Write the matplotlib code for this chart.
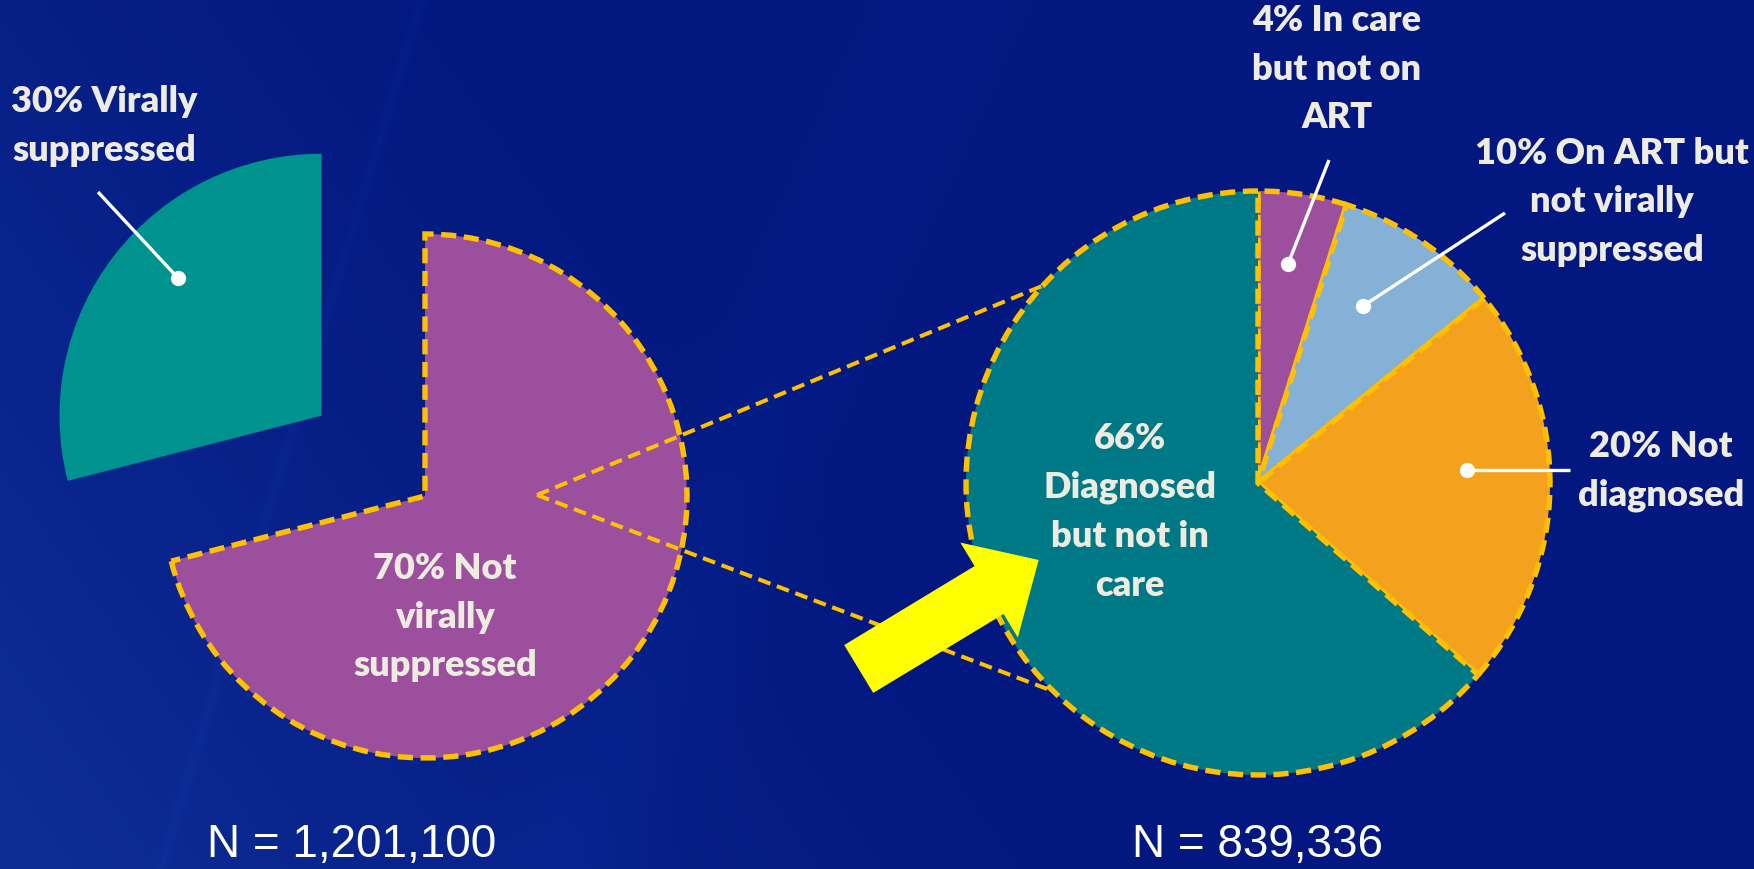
import numpy as np
import matplotlib
matplotlib.use("Agg")
import matplotlib.pyplot as plt
from matplotlib.patches import FancyArrow

# ---------------- data ----------------
left_categories = ["Virally suppressed", "Not virally suppressed"]
left_shares = [29, 71]                      # slice sizes as drawn
left_labels = ["30% Virally\nsuppressed", "70% Not\nvirally\nsuppressed"]
left_total = "N = 1,201,100"

right_categories = ["In care but not on ART", "On ART but not virally suppressed",
                    "Not diagnosed", "Diagnosed but not in care"]
right_shares = [4.9, 9.2, 22.3, 63.6]       # slice sizes as drawn
right_labels = ["4% In care\nbut not on\nART", "10% On ART but\nnot virally\nsuppressed",
                "20% Not\ndiagnosed", "66%\nDiagnosed\nbut not in\ncare"]
right_total = "N = 839,336"

# ---------------- style ----------------
W, H = 1754, 869
TEAL_L = "#00928E"
PURPLE = "#9B4F9D"
LBLUE = "#86B1D6"
ORANGE = "#F4A11D"
TEAL_R = "#007987"
DASH = "#FFC000"
TXT = "#EEEBE0"
FONT = "Lato"

def Y(py):
    return H - py

fig = plt.figure(figsize=(W / 100, H / 100), dpi=100)
ax = fig.add_axes([0, 0, 1, 1])

# background gradient
yy, xx = np.mgrid[0:H, 0:W]
base = np.array([2, 24, 128], float)
light = np.array([14, 46, 150], float)
t = np.clip(1 - (xx / 900.0) * 0.8 - (1 - yy / H) * 0.55, 0, 1) ** 1.3
img = base[None, None, :] * (1 - t[..., None]) + light[None, None, :] * t[..., None]
d = (xx - 0.30 * (H - yy)) - 160
img += (np.exp(-(d / 6.0) ** 2) * 6)[..., None] * np.array([0.3, 0.6, 1.0])
d2 = (xx - 0.45 * (H - yy)) - 560
img += (np.exp(-(d2 / 80.0) ** 2) * 5)[..., None] * np.array([0.3, 0.6, 1.0])
img = np.clip(img, 0, 255) / 255.0
ax.imshow(img, extent=(0, W, 0, H), origin="upper", zorder=0, aspect="auto")

# ---------------- left pie ----------------
LC = (425, Y(496))
LR = 262
lw_edge = 3.9
dash_style = (0, (2.8, 1.4))
wl, _ = ax.pie(left_shares, colors=[TEAL_L, PURPLE], center=LC, radius=LR,
               startangle=90, counterclock=True, explode=[0.5 * LR, 0],
               wedgeprops=dict(edgecolor=DASH, linewidth=lw_edge, linestyle=dash_style))
wl[0].set_linestyle("solid")
wl[0].set_edgecolor("none")
wl[0].set_linewidth(0)
for w in wl:
    w.set_zorder(2)

# ---------------- right pie ----------------
RC = (1258, Y(483))
RR = 292
wr, _ = ax.pie(right_shares, colors=[PURPLE, LBLUE, ORANGE, TEAL_R], center=RC, radius=RR,
               startangle=90, counterclock=False,
               wedgeprops=dict(edgecolor=DASH, linewidth=lw_edge, linestyle=dash_style))
for w in wr:
    w.set_zorder(2)

# ---------------- callout (zoom) lines ----------------
inner = (537, Y(495))
for ang in (137.5, 225.5):
    a = np.deg2rad(ang)
    end = (RC[0] + RR * np.cos(a), RC[1] + RR * np.sin(a))
    ax.plot([inner[0], end[0]], [inner[1], end[1]], color=DASH, lw=2.9,
            linestyle=(0, (3.2, 1.7)), zorder=3, solid_capstyle="butt")

# ---------------- yellow arrow ----------------
ax.add_patch(FancyArrow(858.7, Y(669), 180, 109, width=56, head_width=111,
                        head_length=58, length_includes_head=True,
                        color="#FFFF00", lw=0, zorder=4))

# ---------------- labels ----------------
tkw = dict(color=TXT, fontsize=26, fontweight="heavy", family=FONT,
           ha="center", va="center", linespacing=1.58, zorder=6)
ax.text(104, Y(126), left_labels[0], **tkw)
ax.text(445, Y(617), left_labels[1], **tkw)
ax.text(1337, Y(69), right_labels[0], **tkw)
ax.text(1612, Y(202), right_labels[1], **tkw)
ax.text(1661, Y(471), right_labels[2], **tkw)
ax.text(1130, Y(512), right_labels[3], **tkw)

leaders = [((98, 192), (178, 278)),
           ((1329, 160), (1288, 264)),
           ((1505, 213), (1363, 306)),
           ((1570, 470), (1467, 470))]
for (x0, y0), (x1, y1) in leaders:
    ax.plot([x0, x1], [Y(y0), Y(y1)], color="white", lw=2.4, zorder=5,
            solid_capstyle="butt")
    ax.plot([x1], [Y(y1)], marker="o", ms=11, color="white", mec="none", zorder=5)

nkw = dict(color="white", fontsize=33, family="Liberation Sans",
           ha="center", va="center", zorder=6)
ax.text(352, Y(845), left_total, **nkw)
ax.text(1258, Y(845), right_total, **nkw)

ax.set_xlim(0, W)
ax.set_ylim(0, H)
ax.set_aspect("auto")
ax.set_position([0, 0, 1, 1])
ax.axis("off")
fig.savefig("out.png", dpi=100)
